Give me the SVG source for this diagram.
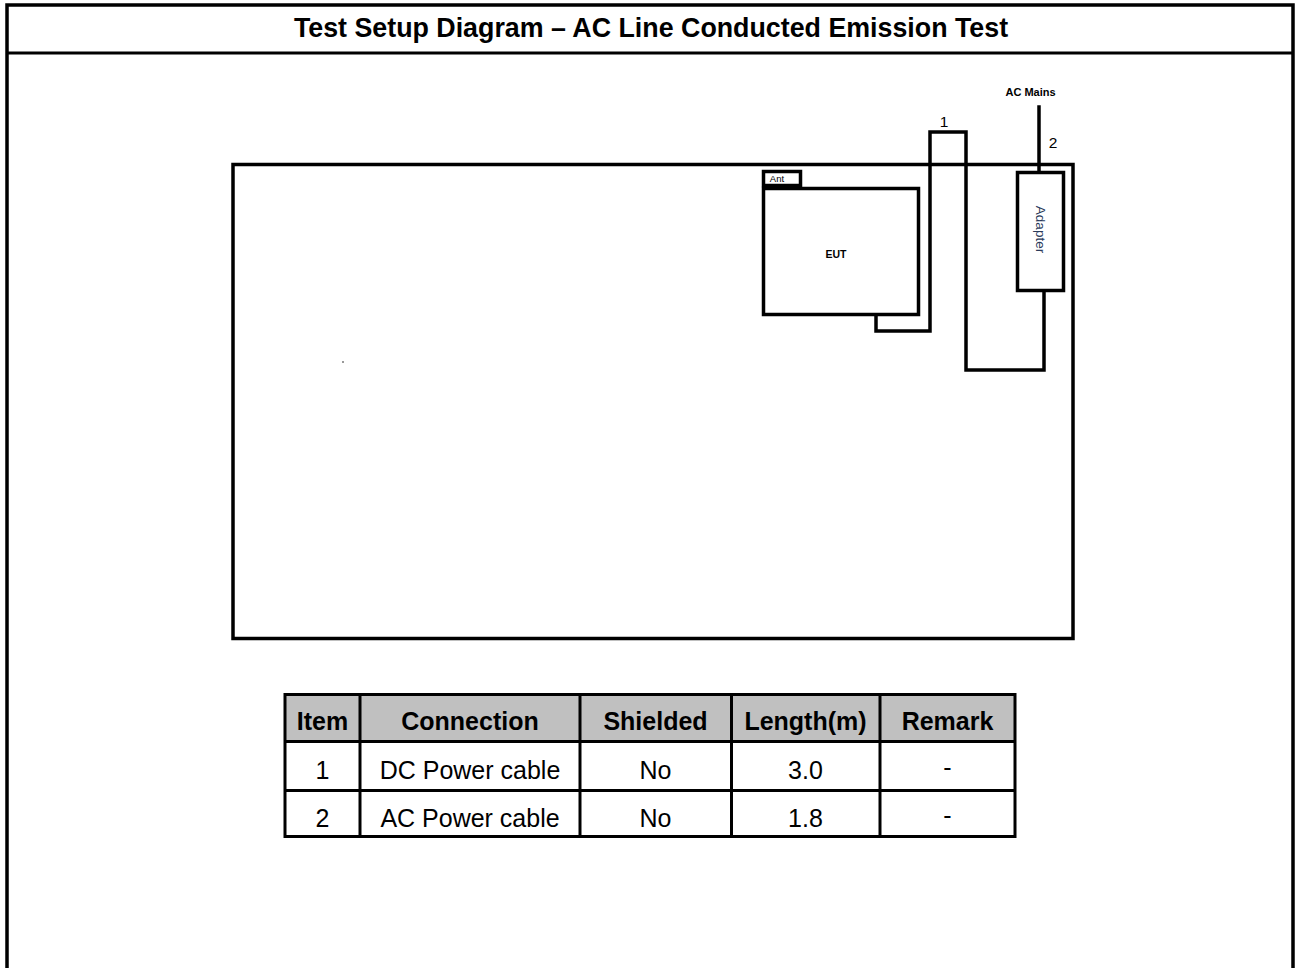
<svg xmlns="http://www.w3.org/2000/svg" width="1295" height="968" viewBox="0 0 1295 968">
<style>
.ln{fill:none;stroke:#000;stroke-width:3.5;stroke-linejoin:miter;stroke-linecap:square}
.box{fill:#fff;stroke:#000;stroke-width:3.5}
.tb{fill:none;stroke:#000;stroke-width:3}
.t{font-family:"Liberation Sans",Arial,sans-serif;fill:#000;text-anchor:middle}
.hd{font-size:25px;font-weight:bold}
.bd{font-size:25px}
</style>
<rect width="1295" height="968" fill="#fff"/>
<g id="frame">
<path class="ln" d="M7 968 V5 H1293 V968" stroke-width="4"/>
<line x1="7" y1="53" x2="1293" y2="53" stroke="#000" stroke-width="3"/>
<text class="t" x="651" y="37" font-size="26.8" font-weight="bold">Test Setup Diagram – AC Line Conducted Emission Test</text>
</g>
<g id="table-area">
<rect x="233" y="164.5" width="840" height="474" fill="none" stroke="#000" stroke-width="3.5"/>
<rect x="342" y="361" width="2" height="2" fill="#999"/>
</g>
<g id="connectors">
<polyline class="ln" points="876,314.5 876,331 930,331 930,132 966,132 966,370 1044,370 1044,290.5"/>
<line class="ln" x1="1039" y1="107" x2="1039" y2="172.5" stroke-linecap="butt"/>
<text class="t" x="944" y="127" font-size="15.5">1</text>
<text class="t" x="1053" y="148" font-size="15.5">2</text>
<text class="t" x="1030.5" y="96" font-size="11" font-weight="bold">AC Mains</text>
</g>
<g id="ant">
<rect class="box" x="763.5" y="171.5" width="37" height="14"/>
<text class="t" x="777" y="182" font-size="9.5">Ant</text>
</g>
<g id="eut">
<rect class="box" x="763.5" y="188.5" width="155" height="126"/>
<text class="t" x="836" y="258" font-size="10.5" font-weight="bold">EUT</text>
</g>
<g id="adapter">
<rect class="box" x="1017.5" y="172.5" width="46" height="118"/>
<text class="t" transform="translate(1036,229.5) rotate(90)" font-size="13.5" style="fill:#2a3a5a">Adapter</text>
</g>
<g id="cable-table">
<rect x="285" y="694.5" width="730" height="47" fill="#c0c0c0"/>
<rect class="tb" x="285" y="694.5" width="730" height="142"/>
<line class="tb" x1="285" y1="741.5" x2="1015" y2="741.5"/>
<line class="tb" x1="285" y1="790.5" x2="1015" y2="790.5"/>
<line class="tb" x1="360" y1="694.5" x2="360" y2="836.5"/>
<line class="tb" x1="580" y1="694.5" x2="580" y2="836.5"/>
<line class="tb" x1="731.5" y1="694.5" x2="731.5" y2="836.5"/>
<line class="tb" x1="880" y1="694.5" x2="880" y2="836.5"/>
<text class="t hd" x="322.5" y="730">Item</text>
<text class="t hd" x="470" y="730">Connection</text>
<text class="t hd" x="655.5" y="730">Shielded</text>
<text class="t hd" x="805.5" y="730">Length(m)</text>
<text class="t hd" x="947.5" y="730">Remark</text>
<text class="t bd" x="322.5" y="779">1</text>
<text class="t bd" x="470" y="779">DC Power cable</text>
<text class="t bd" x="655.5" y="779">No</text>
<text class="t bd" x="805.5" y="779">3.0</text>
<text class="t bd" x="947.5" y="776">-</text>
<text class="t bd" x="322.5" y="827">2</text>
<text class="t bd" x="470" y="827">AC Power cable</text>
<text class="t bd" x="655.5" y="827">No</text>
<text class="t bd" x="805.5" y="827">1.8</text>
<text class="t bd" x="947.5" y="824">-</text>
</g>
</svg>
